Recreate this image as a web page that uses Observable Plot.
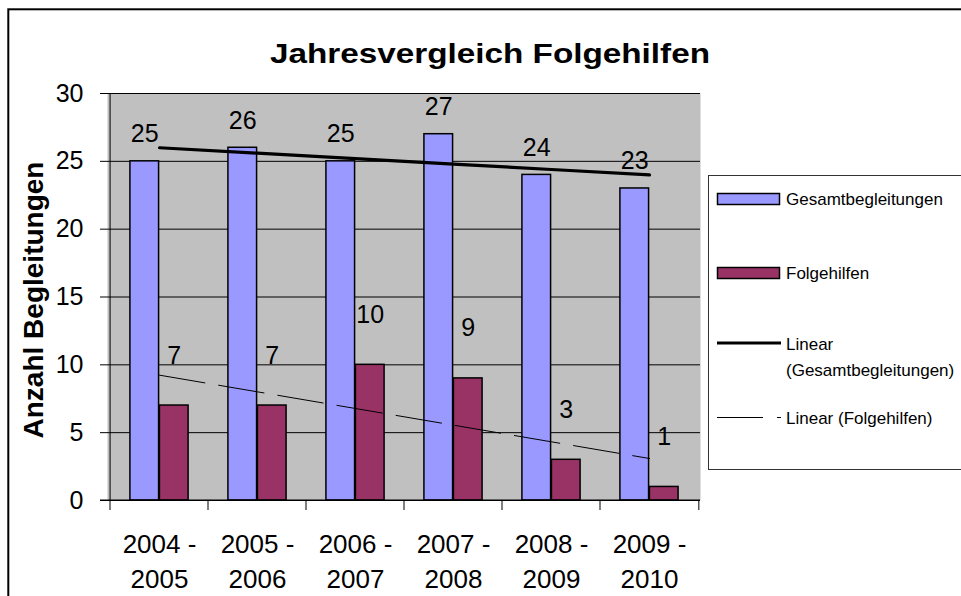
<!DOCTYPE html>
<html><head><meta charset="utf-8">
<script src="https://cdn.jsdelivr.net/npm/d3@7"></script>
<script src="https://cdn.jsdelivr.net/npm/@observablehq/plot@0.6"></script>
<style>
body{margin:0;background:#fff;overflow:hidden}
#chart{width:961px;height:596px;position:relative}
</style>
</head><body><div id="chart"></div>
<script>
const periods = ["2004 - 2005","2005 - 2006","2006 - 2007","2007 - 2008","2008 - 2009","2009 - 2010"];
const gesamt = [25, 26, 25, 27, 24, 23];
const folge = [7, 7, 10, 9, 3, 1];
const yTicks = [0, 5, 10, 15, 20, 25, 30];
const seriesNames = ["Gesamtbegleitungen", "Folgehilfen", "Linear (Gesamtbegleitungen)", "Linear (Folgehilfen)"];
const titleText = "Jahresvergleich Folgehilfen";
const yLabel = "Anzahl Begleitungen";

// least-squares linear trend (as Excel's "Linear" trendline)
function trend(vals) {
  const xs = vals.map((_, i) => i + 1);
  const mx = d3.mean(xs), my = d3.mean(vals);
  const sxy = d3.sum(xs, (x, i) => (x - mx) * (vals[i] - my));
  const sxx = d3.sum(xs, x => (x - mx) ** 2);
  const b = sxy / sxx;
  return xs.map(x => my + b * (x - mx));
}
const tG = trend(gesamt), tF = trend(folge);
const data = periods.map((p, i) => ({period: p, gesamt: gesamt[i], folge: folge[i], tG: tG[i], tF: tF[i]}));

const W = 961, H = 596, mL = 107, mR = 261, mT = 93, mB = 96;
const bw = (W - mL - mR) / periods.length;
const barW = 29.5;
const pad = (bw - 2 * barW) / 2;
const FONT = "'Liberation Sans', Arial, sans-serif";

const plot = Plot.plot({
  width: W, height: H,
  marginLeft: mL, marginRight: mR, marginTop: mT, marginBottom: mB,
  style: {fontFamily: FONT, fontSize: "25px", background: "white", color: "black", overflow: "visible"},
  x: {type: "band", domain: periods, paddingInner: 0, paddingOuter: 0, axis: null},
  y: {domain: [0, 30], label: null},
  marks: [
    Plot.frame({fill: "#c0c0c0", stroke: null}),
    Plot.ruleY(yTicks, {stroke: "black", strokeWidth: 1}),
    Plot.ruleX([periods[0]], {x: d => d, dx: -bw / 2, stroke: "black", strokeWidth: 1}),
    Plot.axisY({ticks: yTicks, tickSize: 7, tickPadding: 17, fontSize: 25, stroke: "black", label: null}),
    Plot.barY(data, {x: "period", y: "gesamt", fill: "#9999ff", stroke: "black", strokeWidth: 1.5,
      insetLeft: pad, insetRight: bw - pad - barW}),
    Plot.barY(data, {x: "period", y: "folge", fill: "#993366", stroke: "black", strokeWidth: 1.5,
      insetLeft: pad + barW, insetRight: pad}),
    Plot.line(data, {x: "period", y: "tG", stroke: "black", strokeWidth: 3.2}),
    Plot.line(data, {x: "period", y: "tF", stroke: "black", strokeWidth: 1, strokeDasharray: "46,14"}),
    Plot.text(data, {x: "period", y: "gesamt", text: d => String(d.gesamt), dx: -(bw / 2 - pad - barW / 2), dy: -27, fontSize: 25, fill: "black"}),
    Plot.text(data, {x: "period", y: "folge", text: d => String(d.folge), dx: (bw / 2 - pad - barW / 2), dy: -50, fontSize: 25, fill: "black"}),
    Plot.text(periods, {x: d => d, frameAnchor: "bottom", dy: 28, lineAnchor: "top", lineHeight: 1.33,
      text: d => d.replace(" - ", " -\n"), fontSize: 26, fill: "black"})
  ]
});

document.getElementById("chart").appendChild(plot);
const svg = d3.select(plot);
const xs = plot.scale("x");
const y0 = mT + (H - mT - mB);

// x-axis line and category boundary ticks
svg.append("line").attr("x1", mL - 7).attr("x2", W - mR).attr("y1", y0).attr("y2", y0).attr("stroke", "black");
const bounds = periods.map(p => xs.apply(p)).concat([xs.apply(periods[periods.length - 1]) + bw]);
svg.selectAll("line.bt").data(bounds).join("line").attr("class", "bt")
  .attr("x1", d => d).attr("x2", d => d).attr("y1", y0).attr("y2", y0 + 10).attr("stroke", "black");

// title
svg.append("text").attr("x", 490).attr("y", 63).attr("text-anchor", "middle")
  .attr("font-family", FONT).attr("font-weight", "bold").attr("font-size", 28)
  .attr("textLength", 440).attr("lengthAdjust", "spacingAndGlyphs").text(titleText);

// y title
svg.append("text").attr("transform", "translate(43,300) rotate(-90)").attr("text-anchor", "middle")
  .attr("font-family", FONT).attr("font-weight", "bold").attr("font-size", 28).text(yLabel);

// legend
const lg = svg.append("g").attr("font-family", FONT).attr("font-size", 17).attr("text-anchor", "start");
lg.append("rect").attr("x", 708.5).attr("y", 175.5).attr("width", 400).attr("height", 294)
  .attr("fill", "white").attr("stroke", "#333").attr("stroke-width", 1);
lg.append("rect").attr("x", 717.5).attr("y", 193.5).attr("width", 62).attr("height", 11)
  .attr("fill", "#9999ff").attr("stroke", "black").attr("stroke-width", 1.5);
lg.append("text").attr("x", 786).attr("y", 205).text(seriesNames[0]);
lg.append("rect").attr("x", 717.5).attr("y", 267.5).attr("width", 62).attr("height", 11)
  .attr("fill", "#993366").attr("stroke", "black").attr("stroke-width", 1.5);
lg.append("text").attr("x", 786).attr("y", 279).text(seriesNames[1]);
lg.append("line").attr("x1", 717).attr("x2", 781).attr("y1", 343).attr("y2", 343)
  .attr("stroke", "black").attr("stroke-width", 3.2);
const parts = seriesNames[2].split(" ");
lg.append("text").attr("x", 786).attr("y", 350).text(parts[0]);
lg.append("text").attr("x", 786).attr("y", 376).text(parts.slice(1).join(" "));
lg.append("line").attr("x1", 717).attr("x2", 781).attr("y1", 417.5).attr("y2", 417.5)
  .attr("stroke", "black").attr("stroke-width", 1).attr("stroke-dasharray", "46,14");
lg.append("text").attr("x", 786).attr("y", 424).text(seriesNames[3]);

// outer chart border
svg.append("rect").attr("x", 8.3).attr("y", 9.3).attr("width", 1200).attr("height", 1200)
  .attr("fill", "none").attr("stroke", "black").attr("stroke-width", 2);
</script>
</body></html>
